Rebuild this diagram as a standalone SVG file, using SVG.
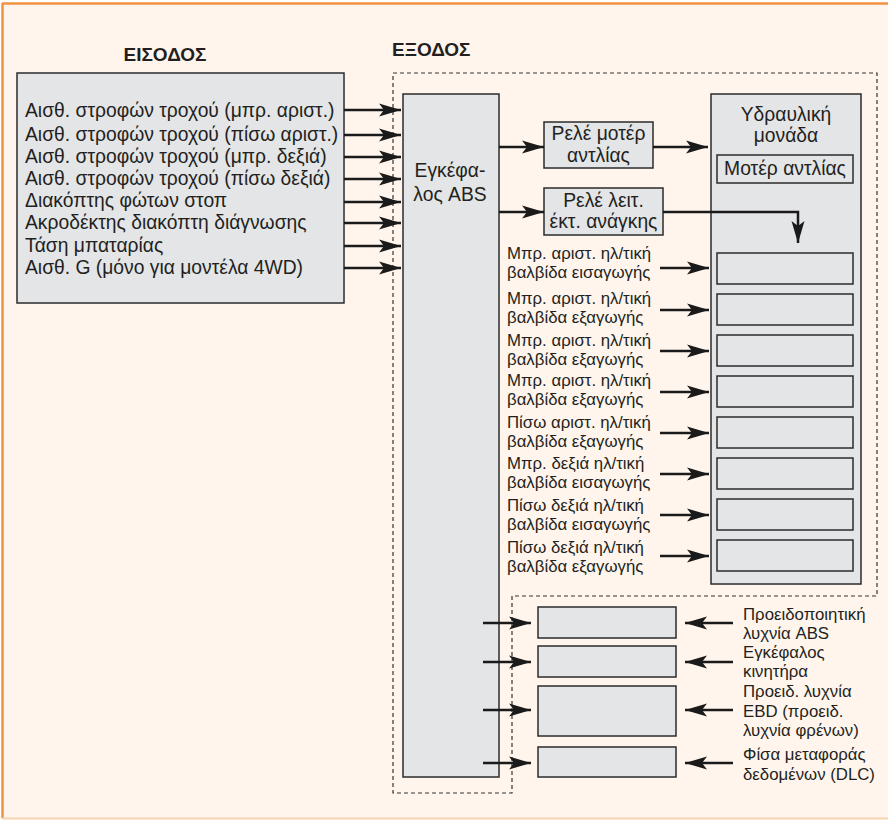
<svg xmlns="http://www.w3.org/2000/svg" width="888" height="820" viewBox="0 0 888 820">
<defs>
<style>
text{font-family:"Liberation Sans",Arial,sans-serif;fill:#231F20}
.t{font-size:19.3px}
.m{font-size:19.3px}
.s{font-size:16.8px}
.h{font-size:19px;font-weight:bold}
.box{fill:#E4E5E7;stroke:#2B2B2B;stroke-width:1.5}
.ar{fill:none;stroke:#1A1A1A;stroke-width:2.5;marker-end:url(#ah)}
.dash{fill:none;stroke:#333;stroke-width:1.2;stroke-dasharray:4 3}
</style>
<marker id="ah" markerUnits="userSpaceOnUse" markerWidth="22" markerHeight="14" refX="22" refY="7" orient="auto">
<path d="M0,0.5 L22,7 L0,13.5 L5,7 Z" fill="#1A1A1A"/>
</marker>
</defs>
<rect x="0" y="0" width="888" height="820" fill="#FFFFFF"/>
<rect x="2" y="3" width="886" height="815" fill="#FFF5EC"/>
<line x1="2" y1="3.5" x2="888" y2="3.5" stroke="#F0923E" stroke-width="2.5"/>
<line x1="2.5" y1="3" x2="2.5" y2="818" stroke="#F0923E" stroke-width="2.5"/>
<line x1="2" y1="818.5" x2="888" y2="818.5" stroke="#F7D3B0" stroke-width="2"/>

<text class="h" x="165" y="61" text-anchor="middle">ΕΙΣΟΔΟΣ</text>
<text class="h" x="392" y="56">ΕΞΟΔΟΣ</text>

<path class="dash" d="M393,73 H877 V596 H512 V793 H393 Z"/>

<g id="inputs">
<rect class="box" x="17" y="73" width="327" height="230"/>
<text class="t" x="25" y="117">Αισθ. στροφών τροχού (μπρ. αριστ.)</text>
<text class="t" x="25" y="141">Αισθ. στροφών τροχού (πίσω αριστ.)</text>
<text class="t" x="25" y="163">Αισθ. στροφών τροχού (μπρ. δεξιά)</text>
<text class="t" x="25" y="185">Αισθ. στροφών τροχού (πίσω δεξιά)</text>
<text class="t" x="25" y="207">Διακόπτης φώτων στοπ</text>
<text class="t" x="25" y="229">Ακροδέκτης διακόπτη διάγνωσης</text>
<text class="t" x="25" y="252">Τάση μπαταρίας</text>
<text class="t" x="25" y="274">Αισθ. G (μόνο για μοντέλα 4WD)</text>
</g>

<g id="abs">
<rect class="box" x="403" y="94" width="96" height="683"/>
<text class="m" x="450" y="177" text-anchor="middle">Εγκέφα-</text>
<text class="m" x="450" y="201" text-anchor="middle">λος ABS</text>
</g>

<g id="relay-pump">
<rect class="box" x="544" y="122" width="109" height="46"/>
<text class="m" x="598.5" y="140" text-anchor="middle">Ρελέ μοτέρ</text>
<text class="m" x="598.5" y="162" text-anchor="middle">αντλίας</text>
</g>

<g id="relay-fail">
<rect class="box" x="544" y="188" width="119" height="47"/>
<text class="m" x="603.5" y="207" text-anchor="middle">Ρελέ λειτ.</text>
<text class="m" x="603.5" y="228" text-anchor="middle">έκτ. ανάγκης</text>
</g>

<g id="hydraulic">
<rect class="box" x="711" y="94" width="150" height="490"/>
<text class="m" x="786" y="121" text-anchor="middle">Υδραυλική</text>
<text class="m" x="786" y="142" text-anchor="middle">μονάδα</text>
<rect class="box" x="717" y="155" width="136" height="28"/>
<text class="m" x="785" y="175" text-anchor="middle">Μοτέρ αντλίας</text>
<rect class="box" x="717" y="253" width="136" height="31"/>
<rect class="box" x="717" y="294" width="136" height="31"/>
<rect class="box" x="717" y="335" width="136" height="31"/>
<rect class="box" x="717" y="376" width="136" height="31"/>
<rect class="box" x="717" y="417" width="136" height="31"/>
<rect class="box" x="717" y="458" width="136" height="31"/>
<rect class="box" x="717" y="499" width="136" height="31"/>
<rect class="box" x="717" y="540" width="136" height="31"/>
</g>

<g id="valve-labels">
<text class="s" x="507" y="259">Μπρ. αριστ. ηλ/τική</text>
<text class="s" x="507" y="277.5">βαλβίδα εισαγωγής</text>
<text class="s" x="507" y="304">Μπρ. αριστ. ηλ/τική</text>
<text class="s" x="507" y="322.5">βαλβίδα εξαγωγής</text>
<text class="s" x="507" y="346">Μπρ. αριστ. ηλ/τική</text>
<text class="s" x="507" y="364.5">βαλβίδα εξαγωγής</text>
<text class="s" x="507" y="386">Μπρ. αριστ. ηλ/τική</text>
<text class="s" x="507" y="404.5">βαλβίδα εξαγωγής</text>
<text class="s" x="507" y="428">Πίσω αριστ. ηλ/τική</text>
<text class="s" x="507" y="446.5">βαλβίδα εξαγωγής</text>
<text class="s" x="507" y="469">Μπρ. δεξιά ηλ/τική</text>
<text class="s" x="507" y="487.5">βαλβίδα εισαγωγής</text>
<text class="s" x="507" y="511">Πίσω δεξιά ηλ/τική</text>
<text class="s" x="507" y="529.5">βαλβίδα εισαγωγής</text>
<text class="s" x="507" y="553">Πίσω δεξιά ηλ/τική</text>
<text class="s" x="507" y="571.5">βαλβίδα εξαγωγής</text>
</g>

<g id="warning-abs">
<rect class="box" x="538" y="607" width="138" height="31"/>
<text class="s" x="743" y="620">Προειδοποιητική</text>
<text class="s" x="743" y="639">λυχνία ABS</text>
</g>
<g id="engine-ecu">
<rect class="box" x="538" y="646" width="138" height="31"/>
<text class="s" x="743" y="658">Εγκέφαλος</text>
<text class="s" x="743" y="677">κινητήρα</text>
</g>
<g id="warning-ebd">
<rect class="box" x="538" y="686" width="138" height="50"/>
<text class="s" x="743" y="697">Προειδ. λυχνία</text>
<text class="s" x="743" y="717">EBD (προειδ.</text>
<text class="s" x="743" y="736">λυχνία φρένων)</text>
</g>
<g id="dlc">
<rect class="box" x="538" y="747" width="138" height="30"/>
<text class="s" x="743" y="760">Φίσα μεταφοράς</text>
<text class="s" x="743" y="780">δεδομένων (DLC)</text>
</g>

<g id="connectors">
<path class="ar" d="M344,110 H401"/>
<path class="ar" d="M344,135 H401"/>
<path class="ar" d="M344,157 H401"/>
<path class="ar" d="M344,179 H401"/>
<path class="ar" d="M344,202 H401"/>
<path class="ar" d="M344,223 H401"/>
<path class="ar" d="M344,246 H401"/>
<path class="ar" d="M344,268 H401"/>
<path class="ar" d="M499,147 H544"/>
<path class="ar" d="M653,147 H708"/>
<path class="ar" d="M499,212 H544"/>
<path class="ar" d="M663,212 H798 V243"/>
<path class="ar" d="M660,268 H709"/>
<path class="ar" d="M660,310 H709"/>
<path class="ar" d="M660,351 H709"/>
<path class="ar" d="M660,392 H709"/>
<path class="ar" d="M660,433 H709"/>
<path class="ar" d="M660,474 H709"/>
<path class="ar" d="M660,515 H709"/>
<path class="ar" d="M660,556 H709"/>
<path class="ar" d="M483,623 H531"/>
<path class="ar" d="M483,662 H531"/>
<path class="ar" d="M483,710 H531"/>
<path class="ar" d="M483,763 H531"/>
<path class="ar" d="M733,623 H685"/>
<path class="ar" d="M733,662 H685"/>
<path class="ar" d="M733,710 H685"/>
<path class="ar" d="M733,763 H685"/>
</g>
</svg>
